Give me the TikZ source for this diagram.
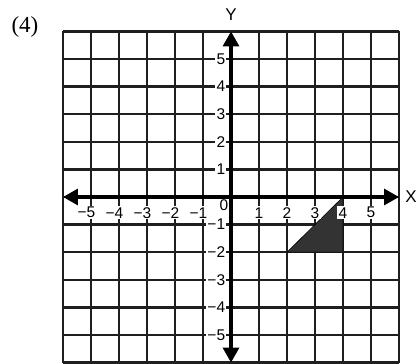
\documentclass[tikz,border=0pt]{standalone}
\usepackage{fontspec}
\setmainfont{Liberation Serif}
\newfontfamily\labfont{Liberation Sans}
\usetikzlibrary{arrows.meta}
\begin{document}
\begin{tikzpicture}[x=28pt,y=27.6pt,
  gridline/.style={line width=2.4pt, color=black!88},
  axisline/.style={line width=3.2pt, {Triangle[length=15pt,width=16pt]}-{Triangle[length=15pt,width=16pt]}},
  numlab/.style={fill=white, inner sep=1.2pt, font=\labfont\fontsize{15.5}{17}\selectfont},
  axlab/.style={font=\labfont\fontsize{17}{19}\selectfont},
  shape fill/.style={fill=black!80, draw=black, line width=0.6pt}]
\useasboundingbox (-231pt,-166pt) rectangle (188pt,197pt);
\draw[gridline, step=1] (-6,-6) grid (6,6);
\draw[shape fill] (2,-2) -- (4,0) -- (4,-2) -- cycle;
\coordinate (xl) at (-6,0);
\coordinate (xr) at (6,0);
\coordinate (yt) at (0,6);
\coordinate (yb) at (0,-6);
\draw[axisline] (xl) -- (xr);
\draw[axisline] (yb) -- (yt);
\foreach \i in {1,...,5} {
  \node[numlab] (xp\i) at (\i,-0.57) {\i};
  \node[numlab] (xn\i) at (-\i,-0.57) {\llap{−}\i};
  \node[numlab, anchor=east] (yp\i) at (-0.16,\i) {\i};
  \node[numlab, anchor=east] (yn\i) at (-0.16,-\i) {−\i};
}
\node[numlab, fill=none] (zero) at (-0.25,-0.29) {0};
\node[axlab] (xlab) at (6.43,0) {X};
\node[axlab] (ylab) at (0,6.6) {Y};
\node[font=\fontsize{23}{25}\selectfont] (num) at (-7.36,6.16) {(4)};
\end{tikzpicture}
\end{document}
